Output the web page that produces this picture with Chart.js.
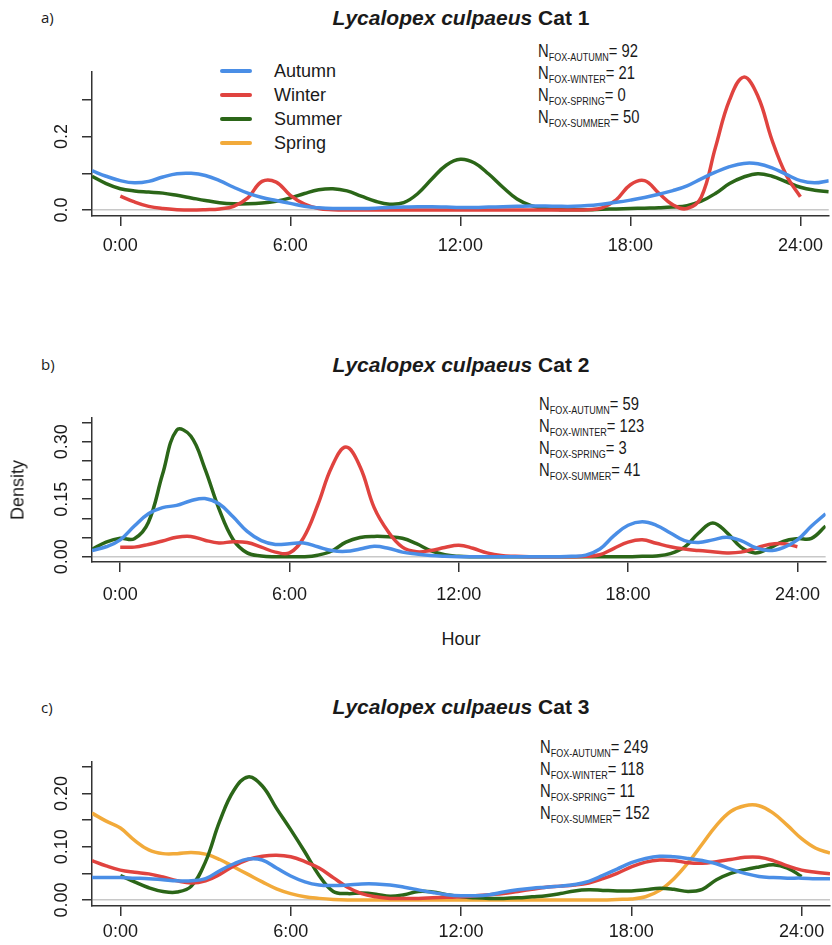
<!DOCTYPE html>
<html>
<head>
<meta charset="utf-8">
<script src="https://cdn.jsdelivr.net/npm/chart.js@4.4.0/dist/chart.umd.min.js"></script>
<style>
  body { margin: 0; background: #fff; }
  #page { position: relative; width: 832px; height: 945px; overflow: hidden;
          font-family: "Liberation Sans", Arial, sans-serif; color: #1a1a1a; }
  canvas { position: absolute; left: 0; }
  .tag { position: absolute; left: 41px; font-family: "Open Sans", sans-serif; font-size: 15px; line-height: 18px; }
  .title { position: absolute; left: 92px; width: 738px; text-align: center;
           font-weight: bold; font-size: 21px; line-height: 24px; }
  .nbox { position: absolute; font-size: 18px; transform: scaleX(0.82); transform-origin: left top; white-space: nowrap; }
  .nbox div { height: 22px; line-height: 22px; }
  .nbox sub { font-size: 11px; vertical-align: baseline; position: relative; top: 4px; }
  .legend { position: absolute; left: 220px; top: 59px; font-size: 18px; }
  .legend div { height: 24px; line-height: 24px; position: relative; padding-left: 54px; }
  .legend span { position: absolute; left: 0; top: 10px; width: 32px; height: 4px; border-radius: 2px; }
  .axlabel { position: absolute; font-size: 18px; }
</style>
</head>
<body>
<div id="page">
  <div class="tag" style="top:8px">a)</div>
  <div class="title" style="top:6px"><i>Lycalopex culpaeus</i> Cat 1</div>
  <div class="legend">
    <div><span style="background:#4a8ee6"></span>Autumn</div>
    <div><span style="background:#e0433f"></span>Winter</div>
    <div><span style="background:#2b6618"></span>Summer</div>
    <div><span style="background:#f2aa3a"></span>Spring</div>
  </div>
  <div class="nbox" style="left:538px;top:40px">
    <div>N<sub>FOX-AUTUMN</sub>= 92</div>
    <div>N<sub>FOX-WINTER</sub>= 21</div>
    <div>N<sub>FOX-SPRING</sub>= 0</div>
    <div>N<sub>FOX-SUMMER</sub>= 50</div>
  </div>
  <canvas id="chartA" width="832" height="200" style="top:60px"></canvas>

  <div class="tag" style="top:355px">b)</div>
  <div class="title" style="top:353px"><i>Lycalopex culpaeus</i> Cat 2</div>
  <div class="nbox" style="left:539px;top:393px">
    <div>N<sub>FOX-AUTUMN</sub>= 59</div>
    <div>N<sub>FOX-WINTER</sub>= 123</div>
    <div>N<sub>FOX-SPRING</sub>= 3</div>
    <div>N<sub>FOX-SUMMER</sub>= 41</div>
  </div>
  <canvas id="chartB" width="832" height="200" style="top:406px"></canvas>
  <div class="axlabel" style="left:18px;top:490px;transform:translate(-50%,-50%) rotate(-90deg)">Density</div>
  <div class="axlabel" style="left:461px;top:639px;transform:translate(-50%,-50%)">Hour</div>

  <div class="tag" style="top:698px">c)</div>
  <div class="title" style="top:695px"><i>Lycalopex culpaeus</i> Cat 3</div>
  <div class="nbox" style="left:540px;top:736px">
    <div>N<sub>FOX-AUTUMN</sub>= 249</div>
    <div>N<sub>FOX-WINTER</sub>= 118</div>
    <div>N<sub>FOX-SPRING</sub>= 11</div>
    <div>N<sub>FOX-SUMMER</sub>= 152</div>
  </div>
  <canvas id="chartC" width="832" height="195" style="top:750px"></canvas>
</div>

<script>
// hour of day, half-hour steps (plot runs a little past both ends)
const hours = [
  -1, -0.5, 0, 0.5, 1, 1.5, 2, 2.5, 3, 3.5, 4, 4.5, 5, 5.5,
  6, 6.5, 7, 7.5, 8, 8.5, 9, 9.5, 10, 10.5, 11, 11.5, 12, 12.5,
  13, 13.5, 14, 14.5, 15, 15.5, 16, 16.5, 17, 17.5, 18, 18.5, 19, 19.5,
  20, 20.5, 21, 21.5, 22, 22.5, 23, 23.5, 24, 24.5, 25
];
const xTicks = [0, 6, 12, 18, 24];

// Cat 1
const autumnA = [
  .107, .092, .080, .074, .078, .090, .099, .100, .094, .080, .062, .046, .034, .026,
  .018, .010, .006, .004, .004, .004, .005, .007, .008, .009, .009, .008, .007, .007,
  .008, .009, .010, .011, .011, .010, .010, .012, .016, .021, .027, .034, .043, .053,
  .066, .085, .103, .118, .127, .126, .115, .097, .080, .074, .080
];
const winterA = [
  null, null, .038, .022, .010, .004, .001, 0, .001, .003, .010, .033, .078, .076,
  .040, .016, .004, .001, 0, 0, 0, 0, 0, 0, 0, 0, 0, 0,
  0, 0, 0, 0, 0, 0, 0, .001, .006, .028, .069, .080, .046, .014,
  .004, .035, .170, .300, .362, .310, .190, .095, .036, null, null
];
const summerA = [
  .092, .072, .058, .052, .049, .046, .040, .033, .026, .020, .017, .017, .019, .024,
  .033, .045, .055, .058, .052, .038, .024, .016, .020, .045, .085, .122, .138, .128,
  .098, .062, .030, .012, .004, .001, .001, .001, .002, .003, .004, .005, .006, .008,
  .012, .024, .045, .072, .090, .099, .092, .077, .062, .054, .050
];

// Cat 2
const autumnB = [
  .016, .026, .044, .080, .112, .128, .134, .146, .152, .138, .104, .066, .042, .032,
  .034, .036, .026, .016, .014, .020, .027, .022, .012, .007, .003, .001, 0, 0,
  0, 0, 0, 0, 0, 0, .001, .004, .020, .055, .082, .091, .082, .062,
  .042, .037, .044, .051, .042, .024, .016, .024, .044, .080, .112
];
const winterB = [
  null, null, .025, .025, .032, .041, .051, .053, .043, .036, .039, .037, .025, .012,
  .010, .050, .135, .235, .286, .235, .128, .065, .025, .013, .016, .024, .030, .022,
  .010, .003, .001, 0, 0, 0, 0, .001, .005, .022, .038, .044, .035, .026,
  .020, .016, .013, .010, .012, .022, .032, .034, .026, null, null
];
const summerB = [
  .019, .038, .048, .047, .090, .215, .330, .315, .230, .125, .045, .010, .002, 0,
  0, 0, .004, .015, .038, .050, .053, .052, .048, .034, .016, .005, .001, 0,
  0, 0, 0, 0, 0, 0, 0, 0, 0, 0, 0, .001, .002, .008,
  .025, .062, .088, .063, .025, .010, .022, .040, .047, .048, .080
];

// Cat 3
const autumnC = [
  .042, .042, .042, .041, .040, .038, .036, .036, .040, .055, .068, .077, .075, .060,
  .045, .034, .028, .027, .028, .030, .030, .028, .024, .019, .014, .010, .008, .008,
  .010, .015, .019, .022, .024, .026, .029, .035, .046, .058, .070, .078, .082, .081,
  .078, .074, .068, .058, .050, .044, .042, .041, .041, .040, .040
];
const winterC = [
  .074, .064, .056, .052, .049, .043, .036, .032, .036, .048, .064, .076, .082, .084,
  .081, .072, .060, .042, .024, .012, .006, .003, .003, .003, .004, .005, .006, .008,
  .010, .012, .016, .020, .024, .026, .028, .032, .040, .050, .062, .071, .075, .074,
  .070, .069, .072, .076, .080, .080, .074, .064, .056, .052, .049
];
const summerC = [
  null, null, .046, .034, .023, .016, .015, .026, .072, .148, .206, .231, .214, .172,
  .132, .090, .046, .016, .012, .013, .011, .007, .010, .016, .015, .010, .006, .004,
  .003, .003, .004, .006, .008, .012, .017, .019, .018, .017, .017, .019, .022, .020,
  .016, .020, .038, .050, .057, .062, .066, .060, .044, null, null
];
const springC = [
  .163, .148, .135, .112, .094, .087, .087, .089, .086, .076, .062, .048, .034, .021,
  .012, .006, .003, .001, 0, 0, 0, 0, 0, 0, 0, 0, 0, 0,
  0, 0, 0, 0, 0, 0, 0, 0, 0, .001, .002, .006, .018, .040,
  .070, .105, .140, .166, .177, .177, .163, .140, .115, .097, .088
];

const colors = { autumn: '#4a8ee6', winter: '#e0433f', summer: '#2b6618', spring: '#f2aa3a' };
const FONT = '"Liberation Sans", Arial, sans-serif';

function toPoints(values) {
  return hours.map((h, i) => values[i] == null ? null : { x: h, y: values[i] }).filter(p => p);
}

function line(label, values, color) {
  return {
    label: label,
    data: toPoints(values),
    borderColor: color,
    borderWidth: 3.5,
    pointRadius: 0,
    tension: 0.4,
    fill: false
  };
}

// y tick labels in R are turned to run along the axis
const rotatedYLabels = {
  id: 'rotatedYLabels',
  afterDraw(chart, args, opts) {
    const y = chart.scales.y;
    const ctx = chart.ctx;
    ctx.save();
    ctx.font = '18px ' + FONT;
    ctx.fillStyle = '#1a1a1a';
    ctx.textAlign = 'center';
    ctx.textBaseline = 'middle';
    opts.values.forEach((v, i) => {
      ctx.save();
      ctx.translate(62, y.getPixelForValue(v));
      ctx.rotate(-Math.PI / 2);
      ctx.fillText(opts.labels[i], 0, 0);
      ctx.restore();
    });
    ctx.restore();
  }
};

function makePanel(id, datasets, yMin, yMax, yTicks, labelValues, labelText, xHeight, labelPad) {
  new Chart(document.getElementById(id), {
    type: 'line',
    data: { datasets: datasets },
    options: {
      responsive: false,
      animation: false,
      devicePixelRatio: 1,
      layout: { padding: { top: 12, right: 2, left: 0, bottom: 0 } },
      plugins: {
        legend: { display: false },
        tooltip: { enabled: false },
        rotatedYLabels: { values: labelValues, labels: labelText }
      },
      scales: {
        x: {
          type: 'linear',
          min: -1,
          max: 25,
          afterBuildTicks: s => { s.ticks = xTicks.map(v => ({ value: v })); },
          afterFit: s => { s.height = xHeight; },
          ticks: {
            callback: v => v + ':00',
            font: { family: FONT, size: 18 },
            color: '#1a1a1a',
            padding: labelPad,
            maxRotation: 0,
            autoSkip: false
          },
          grid: { drawOnChartArea: false, color: '#333', tickColor: '#333', tickLength: 10, lineWidth: 1.5 },
          border: { display: true, color: '#333', width: 1.5 }
        },
        y: {
          type: 'linear',
          min: yMin,
          max: yMax,
          afterBuildTicks: s => { s.ticks = yTicks.map(v => ({ value: v })); },
          afterFit: s => { s.width = 92; },
          ticks: { display: false },
          grid: {
            color: ctx => (ctx.tick && ctx.tick.value === 0) ? '#c8c8c8' : 'rgba(0,0,0,0)',
            tickColor: '#333',
            tickLength: 10,
            lineWidth: 1.5
          },
          border: { display: true, color: '#333', width: 1.5 }
        }
      }
    },
    plugins: [rotatedYLabels]
  });
}

makePanel('chartA', [
  line('Autumn', autumnA, colors.autumn),
  line('Winter', winterA, colors.winter),
  line('Summer', summerA, colors.summer)
], -0.0163, 0.376, [0, 0.1, 0.2, 0.3], [0, 0.2], ['0.0', '0.2'], 44, 9);

makePanel('chartB', [
  line('Autumn', autumnB, colors.autumn),
  line('Winter', winterB, colors.winter),
  line('Summer', summerB, colors.summer)
], -0.0138, 0.362, [0, 0.05, 0.1, 0.15, 0.2, 0.25, 0.3, 0.35], [0, 0.15, 0.3], ['0.00', '0.15', '0.30'], 44, 12);

makePanel('chartC', [
  line('Autumn', autumnC, colors.autumn),
  line('Winter', winterC, colors.winter),
  line('Summer', summerC, colors.summer),
  line('Spring', springC, colors.spring)
], -0.0113, 0.259, [0, 0.05, 0.1, 0.15, 0.2, 0.25], [0, 0.1, 0.2], ['0.00', '0.10', '0.20'], 39, 5);
</script>
</body>
</html>
